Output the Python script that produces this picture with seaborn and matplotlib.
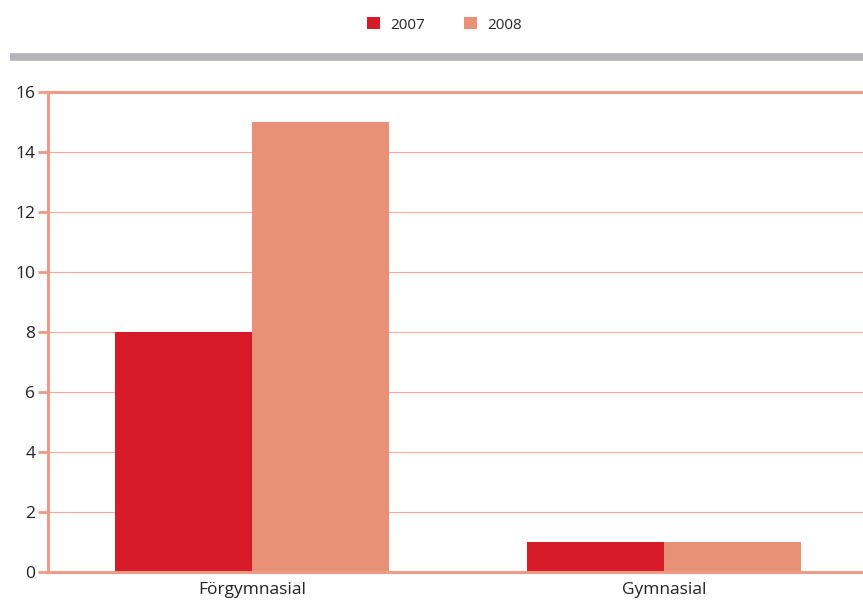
import pandas as pd
import numpy as np
import matplotlib.pyplot as plt
import seaborn as sns
from matplotlib.patches import Patch
from matplotlib.lines import Line2D

# data
categories = ['Förgymnasial', 'Gymnasial']
years = ['2007', '2008']
values_2007 = [8, 1]
values_2008 = [15, 1]

red = '#d71a27'
salmon = '#e99178'
line_col = '#ee9a84'
grid_col = '#f1ab99'

df = pd.DataFrame({
    'kategori': categories * 2,
    'år': [years[0]] * 2 + [years[1]] * 2,
    'antal': values_2007 + values_2008,
})

sns.set_theme(style='white')
plt.rcParams['font.family'] = ['Open Sans', 'DejaVu Sans']

fig = plt.figure(figsize=(8.63, 6.08), dpi=100)
ax = fig.add_axes([0.0556, 0.0592, 0.9444, 0.7895])

sns.barplot(data=df, x='kategori', y='antal', hue='år', order=categories,
            hue_order=years, palette=[red, salmon], width=0.667, gap=0,
            saturation=1, ax=ax, legend=False, edgecolor='none', linewidth=0)

ax.set_xlim(-0.495, 1.483)
ax.set_ylim(0, 16)
ax.set_yticks(range(0, 17, 2))
ax.set_xlabel('')
ax.set_ylabel('')

# gridlines
for y in range(2, 16, 2):
    ax.axhline(y, color=grid_col, lw=0.8, zorder=0)

for side in ['left', 'bottom', 'top']:
    ax.spines[side].set_color(line_col)
    ax.spines[side].set_linewidth(2.2)
ax.spines['right'].set_visible(False)

ax.tick_params(axis='y', length=7, width=2, color=line_col, labelsize=12.5,
               labelcolor='#222222', pad=2)
ax.tick_params(axis='x', length=0, labelsize=12.5, labelcolor='#222222', pad=7)
ax.tick_params(left=True)

# legend at top
handles = [Patch(facecolor=red, edgecolor='none'), Patch(facecolor=salmon, edgecolor='none')]
fig.legend(handles, years, loc='center', bbox_to_anchor=(0.515, 0.959), ncol=2,
           frameon=False, fontsize=11, handlelength=0.85, handleheight=0.85,
           columnspacing=2.5, handletextpad=0.7)

# grey band under the legend
fig.add_artist(Line2D([0.0116, 1.0], [0.907, 0.907], color='#b3b3b8', lw=5.5,
                      solid_capstyle='butt', transform=fig.transFigure))

fig.savefig('out.png', dpi=100)
